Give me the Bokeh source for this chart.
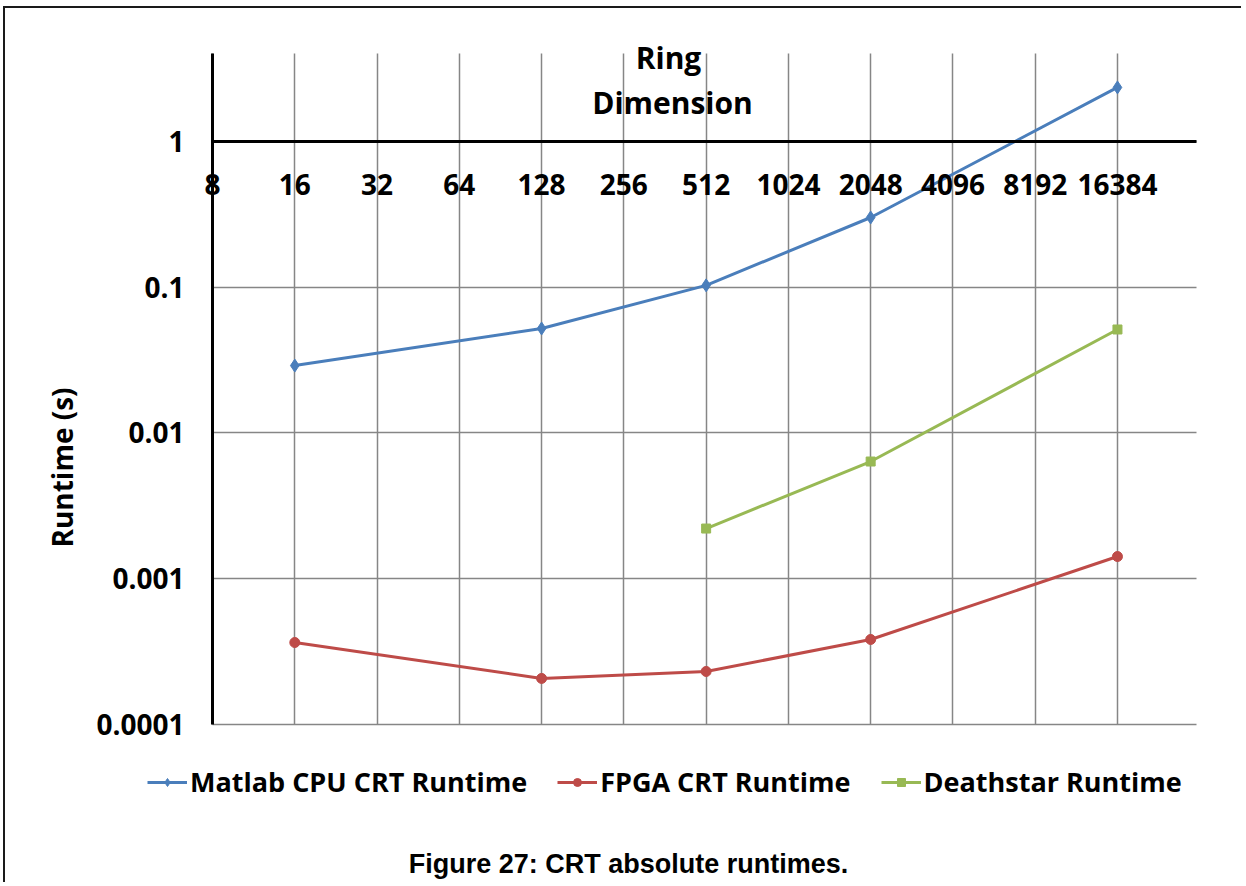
from bokeh.plotting import figure
from bokeh.models import FixedTicker, Label
from bokeh.embed import file_html
from bokeh.resources import INLINE

# ---- data ----
ring_dims = [8, 16, 32, 64, 128, 256, 512, 1024, 2048, 4096, 8192, 16384]
ring_labels = ["8", "16", "32", "64", "128", "256", "512", "1024", "2048", "4096", "8192", "16384"]
y_ticks = [0.0001, 0.001, 0.01, 0.1, 1]
y_labels = ["0.0001", "0.001", "0.01", "0.1", "1"]

matlab_x = [16, 128, 512, 2048, 16384]
matlab_y = [0.0290, 0.0521, 0.103, 0.301, 2.35]
fpga_x = [16, 128, 512, 2048, 16384]
fpga_y = [0.000365, 0.000207, 0.000231, 0.000383, 0.00142]
death_x = [512, 2048, 16384]
death_y = [0.00221, 0.00637, 0.0513]

series_names = ["Matlab CPU CRT Runtime", "FPGA CRT Runtime", "Deathstar Runtime"]
colors = ["#4A7EBB", "#BE4B48", "#98B954"]
markers = ["diamond", "circle", "square"]
marker_sizes = [13, 10, 9]

FONT = "Open Sans"

# plotting region bounds (data units) inside a frame that fills the canvas
X_BOUNDS = (8, 31870)
Y_BOUNDS = (0.0001, 4.02)

p = figure(width=1238, height=876, x_axis_type="log", y_axis_type="log",
           x_range=(1.398, 47384), y_range=(7.98e-6, 8.176),
           output_backend="svg", toolbar_location=None,
           min_border_left=0, min_border_right=0,
           min_border_top=0, min_border_bottom=0)
p.outline_line_color = None
p.background_fill_color = "white"
p.border_fill_color = "white"
p.styles = {"border-left": "2px solid #1a1a1a", "border-top": "2px solid #1a1a1a",
            "margin-left": "3px", "margin-top": "6px"}

# x axis crossing at y = 1
xa = p.xaxis[0]
xa.fixed_location = 1
xa.bounds = X_BOUNDS
xa.ticker = FixedTicker(ticks=ring_dims)
xa.major_label_overrides = dict(zip(ring_dims, ring_labels))
xa.axis_line_color = "black"
xa.axis_line_width = 3
xa.major_tick_out = 0
xa.major_tick_in = 0
xa.minor_tick_out = 0
xa.minor_tick_in = 0
xa.major_label_standoff = 33
xa.major_label_text_font = FONT
xa.major_label_text_font_style = "bold"
xa.major_label_text_font_size = "28px"
xa.major_label_text_color = "black"

ya = p.yaxis[0]
ya.fixed_location = 8
ya.bounds = Y_BOUNDS
ya.ticker = FixedTicker(ticks=y_ticks)
ya.major_label_overrides = dict(zip(y_ticks, y_labels))
ya.axis_line_color = "black"
ya.axis_line_width = 3
ya.major_tick_out = 0
ya.major_tick_in = 0
ya.minor_tick_out = 0
ya.minor_tick_in = 0
ya.major_label_standoff = 28
ya.major_label_text_font = FONT
ya.major_label_text_font_style = "bold"
ya.major_label_text_font_size = "28px"
ya.major_label_text_color = "black"

p.xgrid.ticker = FixedTicker(ticks=ring_dims)
p.xgrid.cross_bounds = Y_BOUNDS
p.xgrid.grid_line_color = "#868686"
p.xgrid.grid_line_width = 1.5
p.ygrid.ticker = FixedTicker(ticks=y_ticks)
p.ygrid.cross_bounds = X_BOUNDS
p.ygrid.grid_line_color = "#868686"
p.ygrid.grid_line_width = 1.5

xs = [matlab_x, fpga_x, death_x]
ys = [matlab_y, fpga_y, death_y]
for xv, yv, name, c, m, ms in zip(xs, ys, series_names, colors, markers, marker_sizes):
    p.line(xv, yv, line_color=c, line_width=3, legend_label=name)
    p.scatter(xv, yv, marker=m, size=ms, fill_color=c, line_color=c, legend_label=name)

leg = p.legend[0]
leg.orientation = "horizontal"
leg.location = (142, 84)
leg.margin = 0
leg.border_line_color = None
leg.background_fill_alpha = 0
leg.padding = 0
leg.spacing = 30
leg.glyph_width = 40
leg.glyph_height = 20
leg.label_standoff = 3
leg.label_text_font = FONT
leg.label_text_font_style = "bold"
leg.label_text_font_size = "27px"
leg.label_text_color = "black"

# texts; positions in pixels from the canvas bottom-left
def add_label(text, x, y, size, font=FONT, angle=0.0):
    p.add_layout(Label(x=x, y=y, x_units="screen", y_units="screen", text=text,
                       text_font=font, text_font_style="bold", text_font_size=size,
                       text_color="black", text_align="center",
                       text_baseline="middle", angle=angle))

add_label("Ring", 663, 827, "30px")
add_label("Dimension", 667, 782, "30px")
add_label("Runtime (s)", 56, 417, "28px", angle=1.5707963)
add_label("Figure 27: CRT absolute runtimes.", 623, 21, "27px", font="Liberation Sans")

open("out.html", "w").write(file_html(p, INLINE))
